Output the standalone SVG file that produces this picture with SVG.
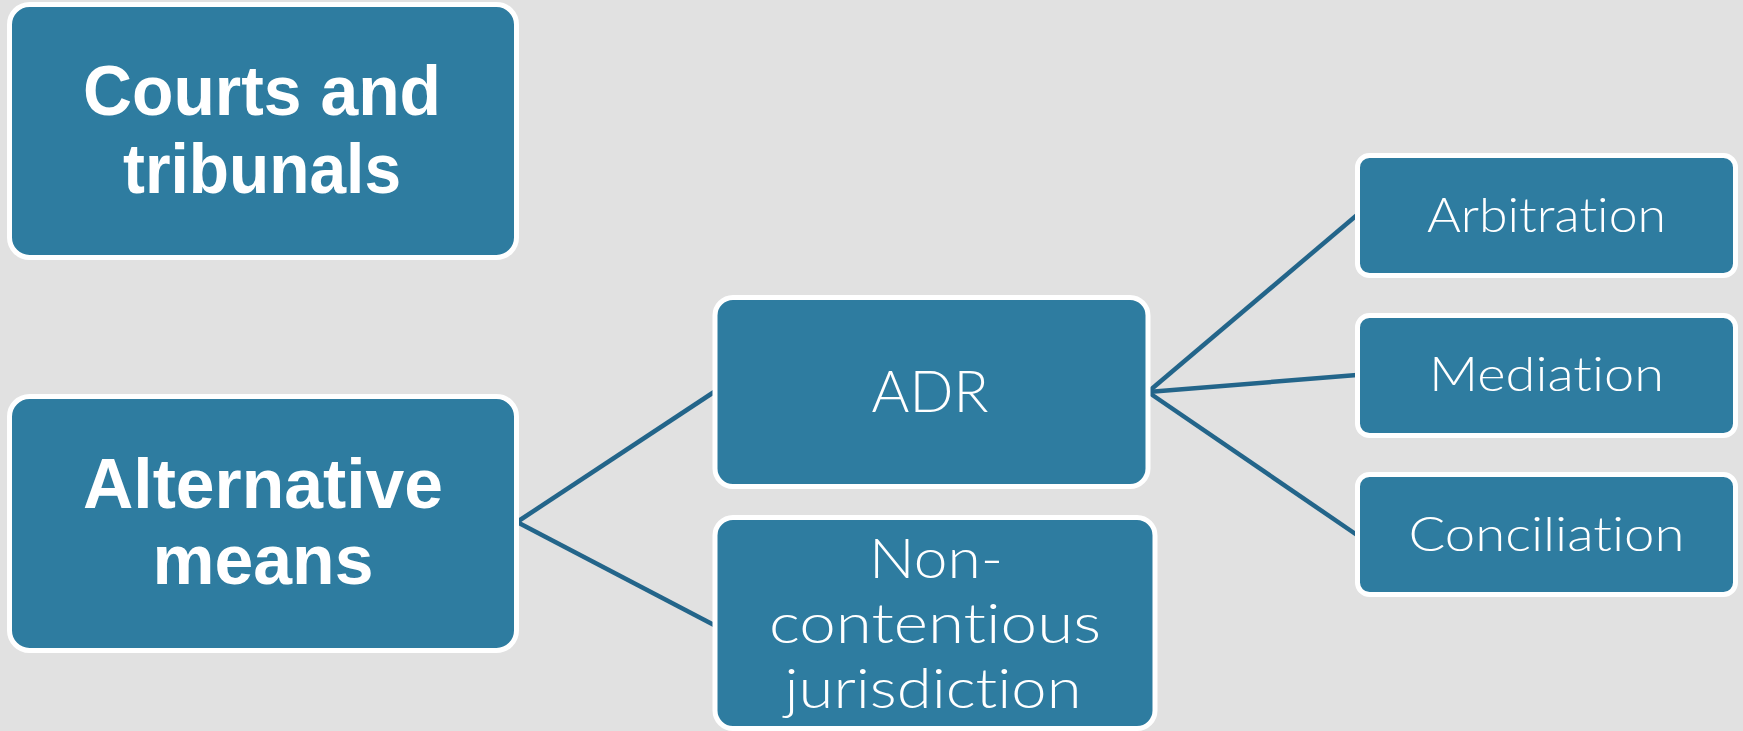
<svg xmlns="http://www.w3.org/2000/svg" width="1743" height="731" viewBox="0 0 1743 731">
<style>
.box{fill:#2e7ca0;stroke:#ffffff;stroke-width:5}
.bold{font-family:"Liberation Sans",Arial,sans-serif;font-weight:bold;font-size:70px;fill:#ffffff;text-anchor:middle}
.light{font-family:Lato,"Liberation Sans",sans-serif;font-weight:300;fill:#ffffff;text-anchor:middle;font-variant-ligatures:none}
.conn{stroke:#23658a;stroke-width:4.5;fill:none}
</style>
<rect x="0" y="0" width="1743" height="731" fill="#e1e1e1"/>
<g id="connectors">
<line class="conn" x1="517" y1="522" x2="714" y2="392"/>
<line class="conn" x1="517" y1="522" x2="714" y2="625"/>
<line class="conn" x1="1148" y1="392" x2="1357" y2="215"/>
<line class="conn" x1="1148" y1="392" x2="1357" y2="375"/>
<line class="conn" x1="1148" y1="392" x2="1357" y2="535"/>
</g>
<g id="courts">
<rect class="box" x="9.5" y="4.5" width="507" height="253" rx="20"/>
<text class="bold" x="262" y="115" textLength="358" lengthAdjust="spacingAndGlyphs">Courts and</text>
<text class="bold" x="262" y="193" textLength="278" lengthAdjust="spacingAndGlyphs">tribunals</text>
</g>
<g id="alternative">
<rect class="box" x="9.5" y="396.5" width="507" height="254" rx="20"/>
<text class="bold" x="263" y="508" textLength="360" lengthAdjust="spacingAndGlyphs">Alternative</text>
<text class="bold" x="263" y="584" textLength="221" lengthAdjust="spacingAndGlyphs">means</text>
</g>
<g id="adr">
<rect class="box" x="715" y="297.5" width="433" height="189" rx="18"/>
<text class="light" x="930" y="412" font-size="57" textLength="117" lengthAdjust="spacingAndGlyphs">ADR</text>
</g>
<g id="noncontentious">
<rect class="box" x="715" y="517.5" width="440" height="211" rx="18"/>
<text class="light" x="936" y="578" font-size="55" textLength="134" lengthAdjust="spacingAndGlyphs">Non-</text>
<text class="light" x="935" y="643" font-size="55" textLength="332" lengthAdjust="spacingAndGlyphs">contentious</text>
<text class="light" x="933" y="708" font-size="55" textLength="297" lengthAdjust="spacingAndGlyphs">jurisdiction</text>
</g>
<g id="arbitration">
<rect class="box" x="1357.5" y="155.5" width="378" height="120" rx="12"/>
<text class="light" x="1546.5" y="232" font-size="47" textLength="239" lengthAdjust="spacingAndGlyphs">Arbitration</text>
</g>
<g id="mediation">
<rect class="box" x="1357.5" y="315.5" width="378" height="120" rx="12"/>
<text class="light" x="1546.5" y="391" font-size="47" textLength="235" lengthAdjust="spacingAndGlyphs">Mediation</text>
</g>
<g id="conciliation">
<rect class="box" x="1357.5" y="474.5" width="378" height="120" rx="12"/>
<text class="light" x="1546.5" y="551" font-size="47" textLength="276" lengthAdjust="spacingAndGlyphs">Conciliation</text>
</g>
</svg>
